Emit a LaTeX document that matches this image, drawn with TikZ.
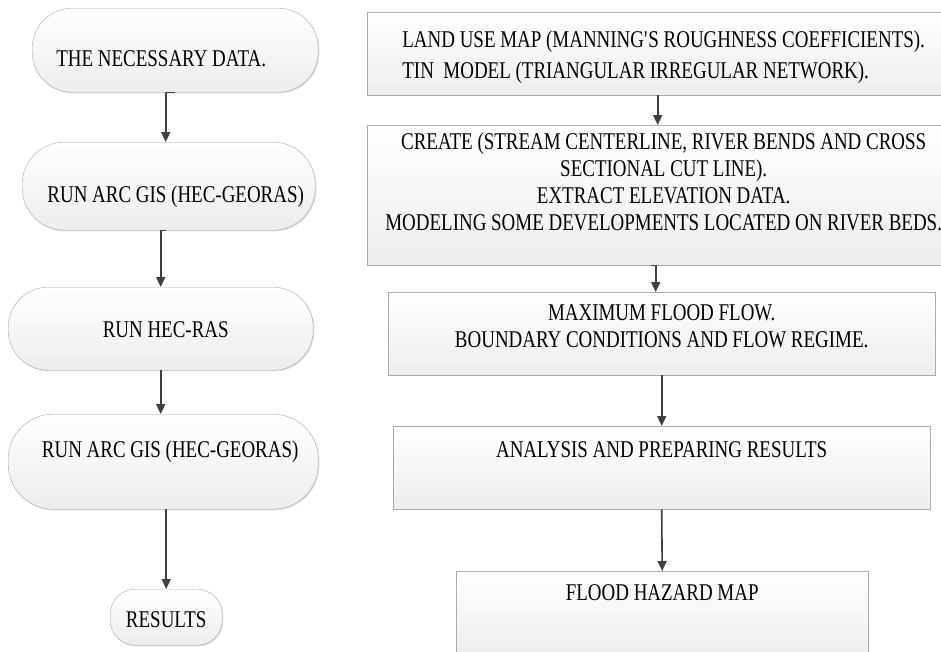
\documentclass[tikz,border=0pt]{standalone}
\usepackage{fontspec}
\setmainfont{Liberation Serif}[FakeStretch=0.79]
\usetikzlibrary{arrows.meta,shadows}
\tikzstyle{roundbox}=[draw=gray!65,top color=white,bottom color=gray!14,inner sep=0pt,anchor=north west,align=center,drop shadow={shadow xshift=1.2pt,shadow yshift=-1.2pt,fill=gray!60,opacity=.4}]
\tikzstyle{flow}=[draw=black!75,line width=1.6pt,-{Triangle[length=10pt,width=9pt]}]

\begin{document}
\begin{tikzpicture}[x=1pt,y=-1pt,font=\fontsize{24}{27}\selectfont]
\path[use as bounding box,fill=white] (0,0) rectangle (941,651);
% left column
  \node[roundbox,rounded corners=40pt,minimum width=286pt,text height=58pt,text depth=26pt] (data) at (32,8) {THE NECESSARY DATA.\hspace*{28pt}};
  \node[roundbox,rounded corners=42pt,minimum width=293pt,text height=60pt,text depth=28pt] (arcgis) at (22,142) {\hspace*{14pt}RUN ARC GIS (HEC-GEORAS)};
  \node[roundbox,rounded corners=40pt,minimum width=305pt,text height=50pt,text depth=33pt] (hecras) at (8,287) {\hspace*{10pt}RUN HEC-RAS};
  \node[roundbox,rounded corners=45pt,minimum width=310pt,text height=43pt,text depth=52pt] (arcgisb) at (8,414) {\hspace*{14pt}RUN ARC GIS (HEC-GEORAS)};
  \node[roundbox,rounded corners=25pt,minimum width=112pt,text height=38pt,text depth=18pt] (results) at (110,589) {RESULTS};
% right column
  \node[roundbox,align=left,minimum width=593pt,text height=66pt,text depth=17pt] (landuse) at (367,12) {LAND USE MAP (MANNING\textquotesingle S ROUGHNESS COEFFICIENTS).\\[4pt]TIN~~MODEL (TRIANGULAR IRREGULAR NETWORK).};
  \node[roundbox,minimum width=593pt,text height=105pt,text depth=35pt] (create) at (367,125) {CREATE (STREAM CENTERLINE, RIVER BENDS AND CROSS\\SECTIONAL CUT LINE).\\EXTRACT ELEVATION DATA.\\MODELING SOME DEVELOPMENTS LOCATED ON RIVER BEDS.};
  \node[roundbox,minimum width=547pt,text height=55pt,text depth=28pt] (maxflow) at (388,292) {MAXIMUM FLOOD FLOW.\\BOUNDARY CONDITIONS AND FLOW REGIME.};
  \node[roundbox,minimum width=537pt,text height=31pt,text depth=52pt] (analysis) at (393,426) {ANALYSIS AND PREPARING RESULTS};
  \node[roundbox,minimum width=412pt,text height=29pt,text depth=60pt] (hazard) at (456,571) {FLOOD HAZARD MAP};
% connectors
\draw[flow] (data.south) -| ([xshift=-3pt]arcgis.north);
\draw[flow] ([xshift=-3pt]arcgis.south) -| (hecras.north);
\draw[flow] (hecras.south) -- (hecras.south |- arcgisb.north);
\draw[flow] (results.north |- arcgisb.south) -- (results.north);
\draw[flow] ([xshift=-6pt]landuse.south) -- ([xshift=-6pt]create.north);
\draw[flow] ([xshift=-13pt]create.south) -| ([xshift=-6pt]maxflow.north);
\draw[flow] (maxflow.south) -- (analysis.north);
\draw[flow] (analysis.south) -- (hazard.north);
\end{tikzpicture}
\end{document}
